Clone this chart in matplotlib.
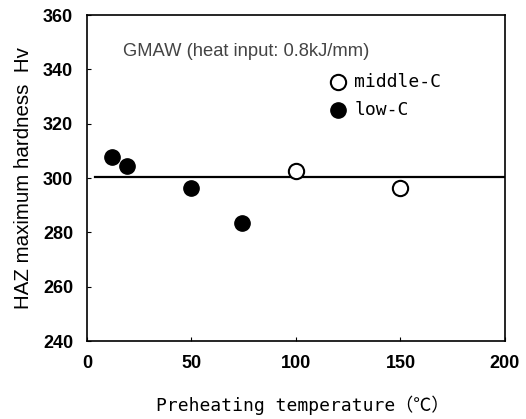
import numpy as np
import matplotlib
matplotlib.use('Agg')
import matplotlib.pyplot as plt
from matplotlib.ticker import MultipleLocator

# data
low_c_temp = [12, 19, 50, 74]
low_c_hv = [307.8, 304.6, 296.2, 283.6]
mid_c_temp = [100, 150]
mid_c_hv = [302.6, 296.2]
mean_line_hv = 300.3
mean_line_x = [4, 200]

plt.rcParams['font.family'] = ['Liberation Sans', 'DejaVu Sans', 'Noto Sans CJK JP']
mono = ['DejaVu Sans Mono', 'Noto Sans CJK JP']

fig = plt.figure(figsize=(5.26, 4.19), dpi=100)
ax = fig.add_axes([0.1654, 0.186, 0.7946, 0.778])

ax.plot(mean_line_x, [mean_line_hv, mean_line_hv], color='black', lw=1.6, zorder=2)
ax.plot(low_c_temp, low_c_hv, 'o', ms=11, mfc='black', mec='black', zorder=3)
ax.plot(mid_c_temp, mid_c_hv, 'o', ms=11, mfc='white', mec='black', mew=1.5, zorder=3)

ax.set_xlim(0, 200)
ax.set_ylim(240, 360)
ax.xaxis.set_major_locator(MultipleLocator(50))
ax.yaxis.set_major_locator(MultipleLocator(20))
ax.tick_params(direction='in', length=3, width=0.8, labelsize=13, pad=10)
for lbl in ax.get_xticklabels() + ax.get_yticklabels():
    lbl.set_fontweight('bold')
for s in ax.spines.values():
    s.set_linewidth(1.2)

xl = ax.set_xlabel('Preheating temperature（℃）', fontsize=13, labelpad=17, family=mono)
xl.set_x(0.515)
ax.set_ylabel('HAZ maximum hardness  Hv', fontsize=14.8, labelpad=7)

ax.text(17, 346.5, 'GMAW (heat input: 0.8kJ/mm)', fontsize=13.2, color='#444444', va='center')

# legend drawn by hand like the original
ax.plot([120], [335.3], 'o', ms=11, mfc='white', mec='black', mew=1.5)
ax.plot([120], [325.0], 'o', ms=11, mfc='black', mec='black')
ax.text(128, 335.3, 'middle-C', fontsize=13, va='center', family=mono)
ax.text(128, 325.0, 'low-C', fontsize=13, va='center', family=mono)

fig.savefig('out.png', dpi=100)
